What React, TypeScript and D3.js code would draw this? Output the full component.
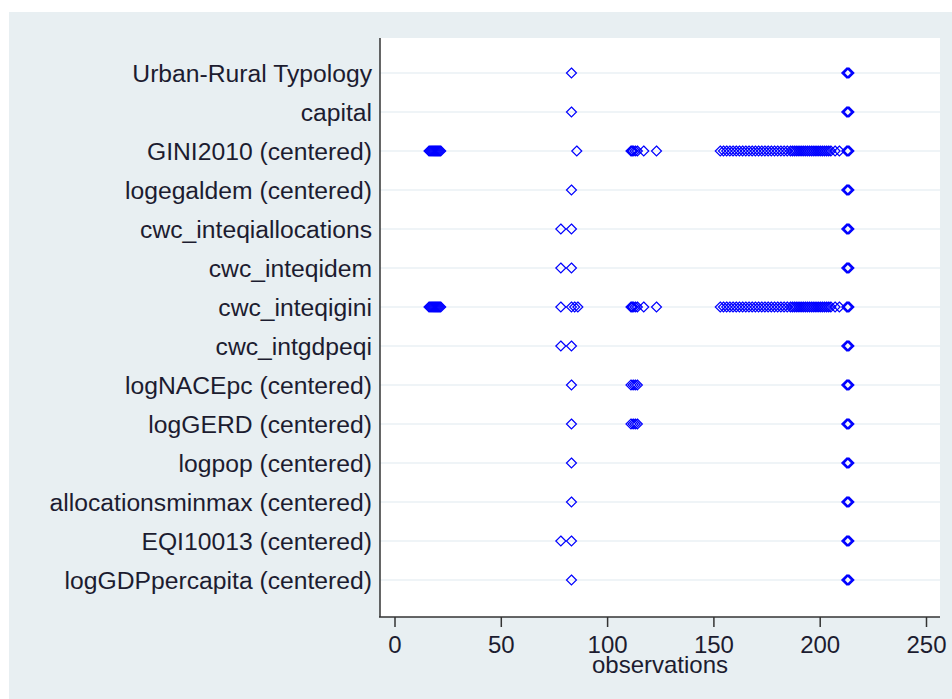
import React from "react";
import * as d3 from "d3";

const categories = [
  "Urban-Rural Typology",
  "capital",
  "GINI2010 (centered)",
  "logegaldem (centered)",
  "cwc_inteqiallocations",
  "cwc_inteqidem",
  "cwc_inteqigini",
  "cwc_intgdpeqi",
  "logNACEpc (centered)",
  "logGERD (centered)",
  "logpop (centered)",
  "allocationsminmax (centered)",
  "EQI10013 (centered)",
  "logGDPpercapita (centered)",
];

const fullObs = [212.5, 213, 213.5];
const giniLow = [16, 16.5, 17, 17.5, 18, 18.5, 19, 19.5, 20, 20.5, 21, 21.5];
const giniMid = [111, 111.5, 112, 113, 114, 117, 123];
const giniHigh = [
  153, 154.5, 156, 157.5, 159, 160.5, 162, 163.5, 165, 166.5, 168, 169.5, 171, 172.5,
  174, 175.5, 177, 178.5, 180, 181.5, 183, 184.5, 186, 187, 188, 189, 190, 191, 192,
  193, 194, 195, 196, 197, 198, 199, 200, 201, 202, 203, 204, 205, 207, 209,
];
const nacePoints = [111, 112, 113, 114];

const rowValues: number[][] = [
  [83, ...fullObs],
  [83, ...fullObs],
  [...giniLow, 85.5, ...giniMid, ...giniHigh, ...fullObs],
  [83, ...fullObs],
  [78, 83, ...fullObs],
  [78, 83, ...fullObs],
  [...giniLow, 78, 83, 84.5, 86, ...giniMid, ...giniHigh, ...fullObs],
  [78, 83, ...fullObs],
  [83, ...nacePoints, ...fullObs],
  [83, ...nacePoints, ...fullObs],
  [83, ...fullObs],
  [83, ...fullObs],
  [78, 83, ...fullObs],
  [83, ...fullObs],
];

const xTicks = [0, 50, 100, 150, 200, 250];
const xTitle = "observations";

export default function App() {
  const W = 952;
  const H = 699;
  const plot = { left: 380, right: 940, top: 38, bottom: 617 };
  const x = d3.scaleLinear().domain([0, 250]).range([395, 926.5]);
  const y = d3.scalePoint<string>().domain(categories).range([73, 580]);
  const font = "'Liberation Sans', Arial, sans-serif";
  const r = 5;
  const diamond = (cx: number, cy: number) =>
    `M${cx},${cy - r}L${cx + r},${cy}L${cx},${cy + r}L${cx - r},${cy}Z`;

  return (
    <div style={{ position: "fixed", left: 0, top: 0, width: W, height: H, background: "#fff" }}>
      <svg width={W} height={H} style={{ display: "block" }}>
        <rect x={9} y={12} width={W - 9} height={H - 12} fill="#e8eff2" />
        <rect
          x={plot.left}
          y={plot.top}
          width={plot.right - plot.left}
          height={plot.bottom - plot.top}
          fill="#ffffff"
        />
        {categories.map((c) => (
          <line
            key={"g" + c}
            x1={plot.left}
            x2={plot.right}
            y1={y(c)}
            y2={y(c)}
            stroke="#eaf1f4"
            strokeWidth={1.5}
          />
        ))}
        {categories.map((c, i) =>
          rowValues[i].map((v, j) => (
            <path
              key={c + j}
              d={diamond(x(v), y(c)!)}
              fill="none"
              stroke="#0000ff"
              strokeWidth={1.2}
            />
          ))
        )}
        <line x1={plot.left} x2={plot.left} y1={plot.top} y2={plot.bottom} stroke="#333" strokeWidth={1.5} />
        <line x1={plot.left - 1} x2={plot.right} y1={plot.bottom} y2={plot.bottom} stroke="#333" strokeWidth={1.5} />
        {xTicks.map((t) => (
          <g key={"t" + t}>
            <line x1={x(t)} x2={x(t)} y1={plot.bottom} y2={plot.bottom + 10} stroke="#333" strokeWidth={1.5} />
            <text
              x={x(t)}
              y={653}
              textAnchor="middle"
              fontFamily={font}
              fontSize={24}
              fill="#1c1c30"
            >
              {t}
            </text>
          </g>
        ))}
        <text
          x={(plot.left + plot.right) / 2}
          y={673}
          textAnchor="middle"
          fontFamily={font}
          fontSize={24}
          fill="#1c1c30"
        >
          {xTitle}
        </text>
        {categories.map((c) => (
          <text
            key={"l" + c}
            x={372}
            y={y(c)}
            dy="0.35em"
            textAnchor="end"
            fontFamily={font}
            fontSize={24.7}
            fill="#1c1c30"
          >
            {c}
          </text>
        ))}
      </svg>
    </div>
  );
}
